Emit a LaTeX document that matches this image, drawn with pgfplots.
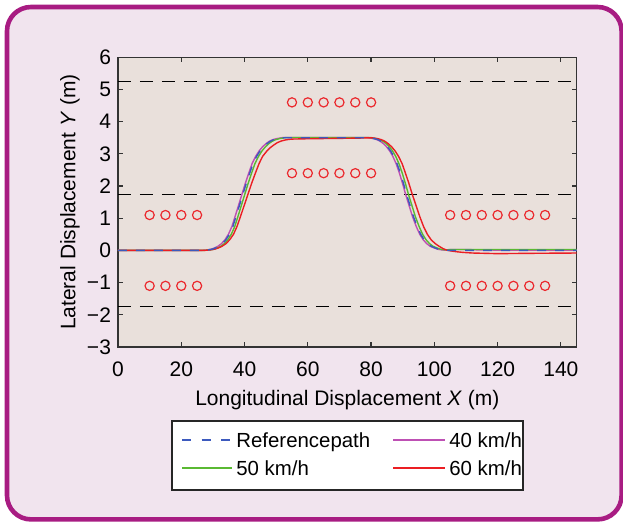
\documentclass[border=0pt]{standalone}
\usepackage{fontspec}
\setmainfont{Liberation Sans}
\usepackage{pgfplots}
\usepackage{pgfplotstable}
\pgfplotsset{compat=1.18}

\definecolor{framecol}{RGB}{168,28,130}
\definecolor{panelbg}{RGB}{241,228,238}
\definecolor{axisbg}{RGB}{233,224,219}
\definecolor{refblue}{RGB}{60,90,190}
\definecolor{kmh40}{RGB}{190,80,180}
\definecolor{kmh50}{RGB}{90,185,50}
\definecolor{kmh60}{RGB}{235,30,35}
\definecolor{conered}{RGB}{235,40,45}

% reference path
\pgfplotstableread{
X Y
0 0
26.5 0
27.6 0.01
28.7 0.02
29.8 0.04
30.9 0.08
31.9 0.13
33.0 0.21
34.1 0.33
35.2 0.50
36.3 0.74
37.3 1.05
38.4 1.40
39.5 1.75
40.6 2.10
41.7 2.42
42.7 2.70
43.8 2.92
44.9 3.09
46.0 3.22
47.1 3.32
48.1 3.39
49.2 3.44
50.3 3.47
51.4 3.49
52.5 3.50
79.2 3.50
80.2 3.49
81.2 3.47
82.2 3.44
83.2 3.39
84.2 3.32
85.2 3.22
86.2 3.09
87.2 2.92
88.2 2.70
89.2 2.42
90.2 2.10
91.2 1.75
92.3 1.40
93.4 1.05
94.6 0.74
95.7 0.50
96.8 0.33
97.9 0.21
99.0 0.13
100.2 0.08
101.3 0.04
102.4 0.02
103.5 0.01
104.6 0
145 0
}\refpath

% 40 km/h
\pgfplotstableread{
X Y
0 0
26.2 0
27.3 0.01
28.4 0.02
29.5 0.04
30.6 0.08
31.6 0.13
32.7 0.21
33.8 0.33
34.9 0.50
36.0 0.74
37.0 1.05
38.1 1.40
39.2 1.75
40.3 2.10
41.4 2.42
42.4 2.70
43.5 2.92
44.6 3.09
45.7 3.22
46.8 3.32
47.8 3.39
48.9 3.44
50.0 3.47
51.1 3.49
52.2 3.51
78.9 3.51
79.9 3.49
80.9 3.47
81.9 3.44
82.9 3.39
83.9 3.32
84.9 3.22
85.9 3.09
86.9 2.92
87.9 2.70
88.9 2.42
89.9 2.10
90.9 1.75
92.0 1.40
93.1 1.05
94.3 0.74
95.4 0.50
96.5 0.33
97.6 0.21
98.7 0.13
99.9 0.08
101.0 0.04
102.1 0.02
103.2 0.01
104.3 0.02
106 0.03
109 0.03
113 0.02
120 0.01
145 0.01
}\vforty

% 50 km/h
\pgfplotstableread{
X Y
0 0
27.1 0
28.2 0.01
29.3 0.02
30.4 0.04
31.5 0.08
32.5 0.13
33.6 0.21
34.7 0.33
35.8 0.50
36.9 0.74
37.9 1.05
39.0 1.40
40.1 1.75
41.2 2.10
42.3 2.42
43.3 2.70
44.4 2.92
45.5 3.09
46.6 3.22
47.7 3.32
48.7 3.39
49.8 3.44
50.9 3.47
52.0 3.49
53.1 3.51
79.8 3.51
80.8 3.49
81.8 3.47
82.8 3.44
83.8 3.39
84.8 3.32
85.8 3.22
86.8 3.09
87.8 2.92
88.8 2.70
89.8 2.42
90.8 2.10
91.8 1.75
92.9 1.40
94.0 1.05
95.2 0.74
96.3 0.50
97.4 0.33
98.5 0.21
99.6 0.13
100.8 0.08
101.9 0.04
103.0 0.02
104.1 0.02
105.2 0.03
145 0.03
}\vfifty

% 60 km/h
\pgfplotstableread{
X Y
0 0
27.1 0
28.2 0.01
29.4 0.02
30.6 0.04
31.8 0.08
32.9 0.13
34.1 0.21
35.3 0.33
36.5 0.50
37.6 0.74
38.7 1.05
39.9 1.40
41.1 1.75
42.3 2.10
43.5 2.42
44.6 2.70
45.7 2.92
46.9 3.07
48.1 3.19
49.3 3.28
50.4 3.35
51.6 3.40
52.8 3.43
54.0 3.45
55.1 3.46
60 3.47
68 3.48
76 3.49
80.0 3.50
81.1 3.49
82.2 3.47
83.3 3.44
84.4 3.39
85.4 3.32
86.5 3.22
87.6 3.09
88.7 2.92
89.8 2.70
90.8 2.42
91.9 2.10
93.0 1.75
94.2 1.40
95.4 1.05
96.6 0.74
97.8 0.50
99.0 0.33
100.3 0.21
101.5 0.13
102.7 0.06
103.9 0.01
105.5 -0.02
107 -0.04
109 -0.06
112 -0.08
120 -0.10
130 -0.09
145 -0.08
}\vsixty

\begin{document}
\begin{tikzpicture}[font=\fontsize{10.5}{12.6}\selectfont]
\useasboundingbox (0,0) rectangle (311.5pt,260.5pt);
\clip (0,0) rectangle (311.5pt,260.5pt);
\draw[line width=2.3pt, draw=framecol, fill=panelbg, rounded corners=12pt]
  (3.5pt,0.8pt) rectangle (310.8pt,257pt);
\begin{axis}[
  scale only axis,
  width=229.35pt, height=144.85pt,
  at={(59pt,87pt)}, anchor=south west,
  xmin=0, xmax=145, ymin=-3, ymax=6,
  xtick={0,20,...,140},
  xticklabels={0,20,40,60,80,100,120,140},
  ytick={-3,-2,...,6},
  yticklabels={−3,−2,−1,0,1,2,3,4,5,6},
  tick align=inside,
  major tick length=2.3pt,
  tick style={color=black!80, line width=0.6pt},
  axis line style={color=black!80, line width=0.65pt},
  axis background/.style={fill=axisbg},
  xticklabel style={anchor=base, yshift=-14.5pt},
  xlabel={Longitudinal Displacement \textit{X} (m)},
  ylabel={Lateral Displacement \textit{Y} (m)},
  xlabel style={at={(axis description cs:0.5,0)}, anchor=base, yshift=-29pt},
  ylabel style={at={(axis description cs:-0.1046,0.5)}, anchor=center},
]
% lane boundaries
\addplot[black, line width=0.6pt, dash pattern=on 6.5pt off 4.5pt]
  coordinates {(0,5.25) (145,5.25)};
\addplot[black, line width=0.6pt, dash pattern=on 6.5pt off 4.5pt]
  coordinates {(0,1.75) (145,1.75)};
\addplot[black, line width=0.6pt, dash pattern=on 6.5pt off 4.5pt]
  coordinates {(0,-1.75) (145,-1.75)};
% cones
\addplot[only marks, mark=o, mark size=2.3pt, color=conered,
  mark options={line width=0.6pt}] coordinates {
  (10,1.1) (15,1.1) (20,1.1) (25,1.1)
  (10,-1.1) (15,-1.1) (20,-1.1) (25,-1.1)
  (55,4.6) (60,4.6) (65,4.6) (70,4.6) (75,4.6) (80,4.6)
  (55,2.4) (60,2.4) (65,2.4) (70,2.4) (75,2.4) (80,2.4)
  (105,1.1) (110,1.1) (115,1.1) (120,1.1) (125,1.1) (130,1.1) (135,1.1)
  (105,-1.1) (110,-1.1) (115,-1.1) (120,-1.1) (125,-1.1) (130,-1.1) (135,-1.1)
};
% paths (reference drawn last so its dashes sit on top)
\addplot[color=kmh40, line width=0.7pt, line join=round] table {\vforty};
\addplot[color=kmh50, line width=0.7pt, line join=round] table {\vfifty};
\addplot[color=kmh60, line width=0.7pt, line join=round] table {\vsixty};
\addplot[color=refblue, line width=0.7pt, dash pattern=on 4.5pt off 4.5pt] table {\refpath};
\end{axis}
% legend
\draw[black!85, line width=0.65pt, fill=white] (86pt,15.5pt) rectangle (261.5pt,50pt);
\draw[refblue, line width=0.7pt, dash pattern=on 4.5pt off 5.25pt] (91pt,40.5pt) -- (116pt,40.5pt);
\draw[kmh40, line width=0.7pt] (196.5pt,40.5pt) -- (222.5pt,40.5pt);
\draw[kmh50, line width=0.7pt] (91pt,26.5pt) -- (116pt,26.5pt);
\draw[kmh60, line width=0.7pt] (196.5pt,26.5pt) -- (222.5pt,26.5pt);
\begin{scope}[every node/.style={anchor=base west, inner sep=0pt, font=\fontsize{10.2}{12}\selectfont}]
\node at (118pt,36.8pt) {Referencepath};
\node at (224.5pt,36.8pt) {40 km/h};
\node at (118pt,22.8pt) {50 km/h};
\node at (224.5pt,22.8pt) {60 km/h};
\end{scope}
\end{tikzpicture}
\end{document}
